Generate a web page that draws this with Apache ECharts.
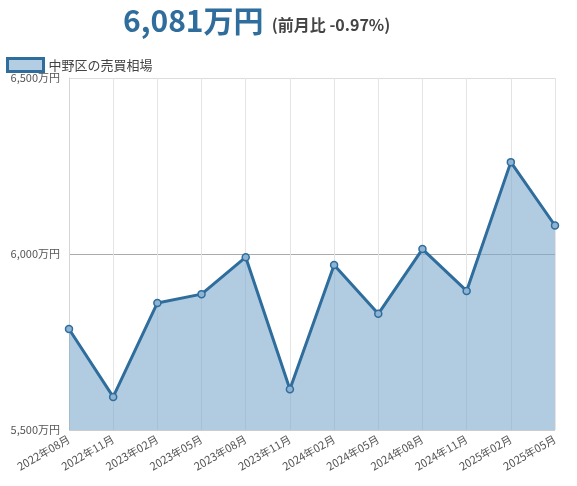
<!DOCTYPE html>
<html>
<head>
<meta charset="utf-8">
<script src="https://cdn.jsdelivr.net/npm/echarts@6/dist/echarts.min.js"></script>
<style>
html,body{margin:0;padding:0;background:#fff;}
#c{width:577px;height:486px;}
</style>
</head>
<body>
<div id="c"></div>
<script>
var categories = ['2022年08月','2022年11月','2023年02月','2023年05月','2023年08月','2023年11月','2024年02月','2024年05月','2024年08月','2024年11月','2025年02月','2025年05月'];
var values = [5787, 5594, 5861, 5886, 5991, 5616, 5969, 5830, 6014, 5895, 6261, 6081];
var seriesName = '中野区の売買相場';
var headline = '6,081万円';
var change = '(前月比 -0.97%)';

var chart = echarts.init(document.getElementById('c'));
var font = '"Noto Sans CJK JP", "Noto Sans", sans-serif';
chart.setOption({
  animation: false,
  textStyle: {fontFamily: font},
  title: {
    text: '{a|' + headline + '}  {b|' + change + '}',
    left: 118,
    top: 1,
    textStyle: {
      rich: {
        a: {fontSize: 30, fontWeight: 'bold', color: '#2f6d9c', fontFamily: font},
        b: {fontSize: 16, fontWeight: 'bold', color: '#444', fontFamily: font, padding: [8, 0, 0, 0]}
      }
    }
  },
  legend: {
    left: 1,
    top: 52,
    itemWidth: 36,
    itemHeight: 13,
    itemGap: 6,
    textStyle: {fontSize: 13, color: '#444', fontFamily: font},
    data: [{name: seriesName, icon: 'rect', itemStyle: {color: '#b3cde3', borderColor: '#2f6d9c', borderWidth: 3}}]
  },
  grid: {left: 69, right: 22, top: 78, bottom: 56, containLabel: false},
  xAxis: {
    type: 'category',
    data: categories,
    boundaryGap: false,
    axisLine: {show: false},
    axisTick: {show: false},
    axisLabel: {rotate: 30, fontSize: 11, color: '#555', margin: 8, interval: 0, fontFamily: font},
    splitLine: {show: true, lineStyle: {color: '#e4e4e4', width: 1}}
  },
  yAxis: {
    type: 'value',
    min: 5500,
    max: 6500,
    interval: 500,
    axisLine: {show: true, lineStyle: {color: '#d6d6d6'}},
    axisTick: {show: false},
    axisLabel: {
      fontSize: 11, color: '#555', margin: 9, fontFamily: font,
      formatter: function (v) { return v.toLocaleString('en-US') + '万円'; }
    },
    splitLine: {show: true, lineStyle: {color: ['#cccccc', '#aaaaaa', '#dddddd'], width: 1}}
  },
  series: [{
    name: seriesName,
    type: 'line',
    data: values,
    lineStyle: {color: '#2f6d9c', width: 3},
    itemStyle: {color: '#8fb3d3', borderColor: '#2f6d9c', borderWidth: 1.5},
    symbol: 'circle',
    symbolSize: 7,
    areaStyle: {color: 'rgba(125,168,205,0.6)', opacity: 1}
  }]
});
</script>
</body>
</html>
